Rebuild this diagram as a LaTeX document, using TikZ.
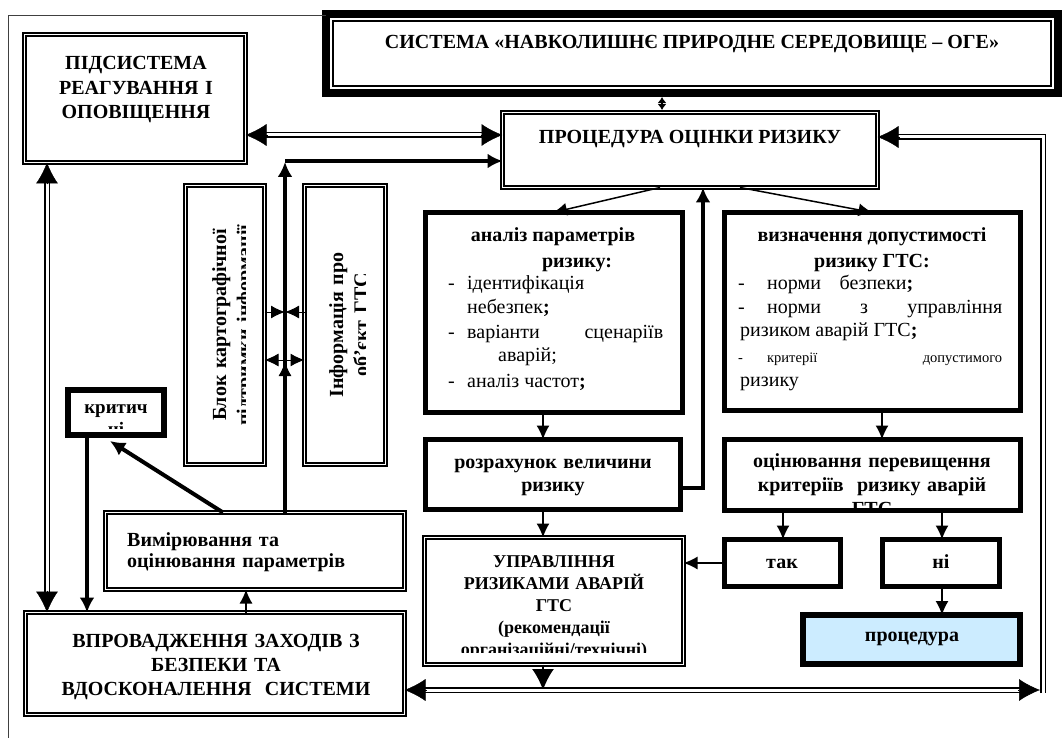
\documentclass[tikz,border=0pt]{standalone}
\usepackage{fontspec}
\setmainfont{Liberation Serif}
\usetikzlibrary{arrows.meta,calc}
\definecolor{procfill}{RGB}{204,236,255}
\begin{document}
\begin{tikzpicture}[x=1pt,y=-1pt,
  dbox/.style={draw,line width=1.7pt,double,double distance=1.6pt,inner sep=0pt,outer sep=0pt},
  sbox/.style={draw,line width=5pt,inner sep=0pt,outer sep=0pt},
  B/.style={font=\fontsize{20}{24.5}\selectfont\bfseries,inner sep=0pt},
  R/.style={font=\fontsize{20}{24.5}\selectfont,inner sep=0pt},
  ml/.style={text width=#1,align=center},
  dline/.style={draw,line width=1.8pt,double,double distance=3pt},
  tipbig/.style={line width=0.5pt,-{Latex[length=21pt,width=22pt]}},
  smallarr/.style={line width=1pt,-{Latex[length=14pt,width=13pt]}},
  thinarr/.style={line width=1.5pt,-{Latex[length=14pt,width=13pt]}},
  thickarr/.style={line width=3.5pt,-{Latex[length=15pt,width=15pt]}},
]
\useasboundingbox (0,0) rectangle (1063,738);

% ---------- boxes ----------
\node[sbox,line width=8pt,minimum width=732pt,minimum height=79pt] (sys) at (692,53.5) {};
\draw[line width=2pt] ($(sys.north west)+(7,7)$) rectangle ($(sys.south east)+(-7,-7)$);
\node[B,anchor=base] (syst) at (692,49) {СИСТЕМА «НАВКОЛИШНЄ ПРИРОДНЕ СЕРЕДОВИЩЕ – ОГЕ»};

\coordinate (ftop) at (8.5,15.5);
\coordinate (fbot) at (8.5,738);
\draw[black!75,line width=1pt] (fbot) -- (ftop) -- (sys.north west |- ftop);

\node[dbox,minimum width=221pt,minimum height=128pt] (pid) at (135,98.5) {};
\node[B,ml=220pt,anchor=base] (pidt) at (136,70) {ПІДСИСТЕМА\\РЕАГУВАННЯ І\\ОПОВІЩЕННЯ};

\node[dbox,minimum width=375pt,minimum height=75pt] (proc) at (690,150) {};
\node[B,anchor=base] (proct) at (690,144) {ПРОЦЕДУРА ОЦІНКИ РИЗИКУ};

\node[dbox,minimum width=79pt,minimum height=279pt] (blok) at (225,325) {};
\begin{scope}
\clip (186,186) rectangle (245.5,464);
\node[B,ml=280pt,rotate=90,anchor=base] (blokt) at (226,325) {Блок картографічної\\підтримки інформації};
\end{scope}

\node[dbox,minimum width=81pt,minimum height=279pt] (info) at (345,325) {};
\begin{scope}
\clip (305,186) rectangle (365.5,464);
\node[B,ml=280pt,rotate=90,anchor=base] (infot) at (343,325) {Інформація про\\об’єкт ГТС};
\end{scope}

\node[sbox,line width=6pt,minimum width=96pt,minimum height=45pt] (krit) at (116,412.5) {};
\begin{scope}
\clip (70,390) rectangle (162,428.5);
\node[B,font=\fontsize{19}{22}\selectfont\bfseries,ml=90pt,anchor=base] (kritt) at (116,413) {критич\\ні};
\end{scope}

\node[dbox,minimum width=299pt,minimum height=77pt] (vimir) at (255,551) {};
\node[B,font=\fontsize{20}{21.5}\selectfont\bfseries,text width=270pt,align=left,anchor=base west] (vimirt) at (127,546) {Вимірювання та\\оцінювання параметрів};

\node[dbox,minimum width=379pt,minimum height=102pt] (vprov) at (215,663.5) {};
\node[B,font=\fontsize{20}{24}\selectfont\bfseries,ml=370pt,anchor=base] (vprovt) at (216,647) {ВПРОВАДЖЕННЯ ЗАХОДІВ З\\БЕЗПЕКИ ТА\\ВДОСКОНАЛЕННЯ\ \ СИСТЕМИ};

\node[sbox,minimum width=257pt,minimum height=200pt] (analiz) at (554,312.5) {};
\node[B,anchor=base] (an1) at (553,242) {аналіз параметрів};
\node[B,anchor=base] (an2) at (577,267) {ризику:};
\node[R,anchor=base west] (an3) at (448,289) {\makebox[19pt][l]{-}ідентифікація};
\node[R,anchor=base west] (an4) at (467,313) {небезпек\textbf{;}};
\node[R,anchor=base west] (an5) at (448,338) {\hbox to 215pt{\makebox[19pt][l]{-}варіанти\hfill сценаріїв}};
\node[R,anchor=base west] (an6) at (498,361) {аварій;};
\node[R,anchor=base west] (an7) at (448,387) {\makebox[19pt][l]{-}аналіз частот\textbf{;}};

\node[sbox,minimum width=296pt,minimum height=198pt] (vyzn) at (872.5,311.5) {};
\node[B,anchor=base] (vy1) at (872,242) {визначення допустимості};
\node[B,anchor=base] (vy2) at (872,267) {ризику ГТС:};
\node[R,anchor=base west] (vy3) at (738,289) {\hbox to 175pt{\makebox[29pt][l]{-}норми\hfill безпеки\textbf{;}}};
\node[R,anchor=base west] (vy4) at (738,313) {\hbox to 264pt{\makebox[29pt][l]{-}норми\hfill з\hfill управління}};
\node[R,anchor=base west] (vy5) at (740,336) {ризиком аварій ГТС\textbf{;}};
\node[R,font=\fontsize{14.5}{17}\selectfont,anchor=base west] (vy6) at (738,362) {\hbox to 264pt{\makebox[29pt][l]{-}критерії\hfill допустимого}};
\node[R,anchor=base west] (vy7) at (740,386) {ризику};

\node[sbox,minimum width=255pt,minimum height=70pt] (rozr) at (553,474.5) {};
\node[B,font=\fontsize{20}{23.5}\selectfont\bfseries,ml=250pt,anchor=base] (rozrt) at (553,468) {розрахунок величини\\ризику};

\node[sbox,minimum width=296pt,minimum height=71pt] (otsin) at (872.5,475) {};
\begin{scope}
\clip (725,440) rectangle (1020,507.5);
\node[B,font=\fontsize{20}{24}\selectfont\bfseries,ml=290pt,anchor=base] (otsint) at (872,467) {оцінювання перевищення\\критеріїв\ \ ризику аварій\\ГТС};
\end{scope}

\node[dbox,minimum width=259pt,minimum height=127pt] (upr) at (554,601) {};
\begin{scope}
\clip (425,538) rectangle (683,652.5);
\node[B,font=\fontsize{18}{22}\selectfont\bfseries,ml=255pt,anchor=base] (uprt) at (554,567) {УПРАВЛІННЯ\\РИЗИКАМИ АВАРІЙ\\ГТС\\(рекомендації\\організаційні/технічні)};
\end{scope}

\node[sbox,minimum width=116pt,minimum height=47pt] (tak) at (782.5,563) {};
\node[B,anchor=base] (takt) at (782,568) {так};
\node[sbox,minimum width=117pt,minimum height=47pt] (ni) at (941,563) {};
\node[B,anchor=base] (nit) at (941,568) {ні};
\node[sbox,line width=6pt,fill=procfill,minimum width=217pt,minimum height=49pt] (proced) at (911.5,639.5) {};
\node[B,anchor=base] (procedt) at (912,641) {процедура};

% ---------- helper coordinates ----------
\coordinate (c135) at (0,135);
\coordinate (c137) at (0,137);
\coordinate (c161) at (0,161);
\coordinate (c312) at (0,312);
\coordinate (c360) at (0,360);
\coordinate (c488) at (0,488);
\coordinate (c690) at (0,690);
\coordinate (c693) at (0,693);
\coordinate (cx47) at (47,0);
\coordinate (cx87) at (87,0);
\coordinate (cx246) at (246,0);
\coordinate (cx285) at (285,0);
\coordinate (cx543) at (543,0);
\coordinate (cx703) at (703,0);
\coordinate (cx783) at (783,0);
\coordinate (cx882) at (882,0);
\coordinate (cx942) at (942,0);
\coordinate (cx1040) at (1040,0);
\coordinate (cx1043) at (1043,0);

% ---------- connectors ----------
\draw[line width=1.5pt,{Latex[length=6pt,width=9pt]}-{Latex[length=6pt,width=9pt]}] ([xshift=-30pt,yshift=-4pt]sys.south) -- ([xshift=-28pt,yshift=2.5pt]proc.north);

\draw[dline] ($(pid.east |- c135)+(15,0)$) -- ($(proc.west |- c135)+(-15,0)$);
\draw[tipbig] ($(pid.east |- c135)+(22,0)$) -- (pid.east |- c135);
\draw[tipbig] ($(proc.west |- c135)+(-22,0)$) -- (proc.west |- c135);

\draw[thickarr] (vimir.north -| cx285) -- ($(cx285 |- c161)+(0,1)$);
\draw[thickarr,line width=3.3pt] (cx285 |- c161) -- (proc.west |- c161);

\draw[smallarr] (blok.east |- c312) -- (cx285 |- c312);
\draw[smallarr] (info.west |- c312) -- (cx285 |- c312);
\draw[smallarr] (cx285 |- c360) -- (blok.east |- c360);
\draw[smallarr] (cx285 |- c360) -- (info.west |- c360);
\draw[smallarr] ($(cx285 |- c360)+(0,18)$) -- ($(cx285 |- c360)+(0,2)$);

\draw[dline] ($(pid.south -| cx47)+(0,15)$) -- ($(vprov.north -| cx47)+(0,-15)$);
\draw[tipbig] ($(pid.south -| cx47)+(0,22)$) -- (pid.south -| cx47);
\draw[tipbig] ($(vprov.north -| cx47)+(0,-22)$) -- (vprov.north -| cx47);

\draw[thickarr,line width=3.3pt] (krit.south -| cx87) -- (vprov.north -| cx87);
\draw[thickarr,line width=4pt] ([xshift=-32pt]vimir.north) -- ([xshift=-6pt,yshift=-6pt]krit.south);
\draw[thinarr] (vprov.north -| cx246) -- (vimir.south -| cx246);

\draw[thinarr] ([xshift=-30pt]proc.south) -- ([xshift=-1pt]analiz.north);
\draw[thinarr] ([xshift=50pt]proc.south) -- (vyzn.north);

\draw[thickarr,line width=3.3pt] (rozr.east |- c488) -- (cx703 |- c488) -- (proc.south -| cx703);

\draw[thinarr] (analiz.south -| cx543) -- (rozr.north -| cx543);
\draw[thinarr] (rozr.south -| cx543) -- (upr.north -| cx543);
\draw[thinarr] (vyzn.south -| cx882) -- (otsin.north -| cx882);
\draw[thinarr] (otsin.south -| cx783) -- (tak.north -| cx783);
\draw[thinarr] (otsin.south -| cx942) -- (ni.north -| cx942);
\draw[thinarr] (ni.south -| cx942) -- (proced.north -| cx942);
\draw[thinarr] (tak.west) -- (upr.east |- tak.west);

\draw[line width=1.5pt,-{Latex[length=21pt,width=22pt]}] (upr.south -| cx543) -- (cx543 |- c690);

\draw[dline] ($(vprov.east |- c690)+(15,0)$) -- ($(cx1040 |- c690)+(-15,0)$);
\draw[tipbig] ($(vprov.east |- c690)+(22,0)$) -- (vprov.east |- c690);
\draw[tipbig] ($(cx1040 |- c690)+(-22,0)$) -- (cx1040 |- c690);

\draw[dline] (cx1043 |- c693) -- (cx1043 |- c137) -- ($(proc.east |- c137)+(15,0)$);
\draw[tipbig] ($(proc.east |- c137)+(22,0)$) -- (proc.east |- c137);
\end{tikzpicture}
\end{document}
